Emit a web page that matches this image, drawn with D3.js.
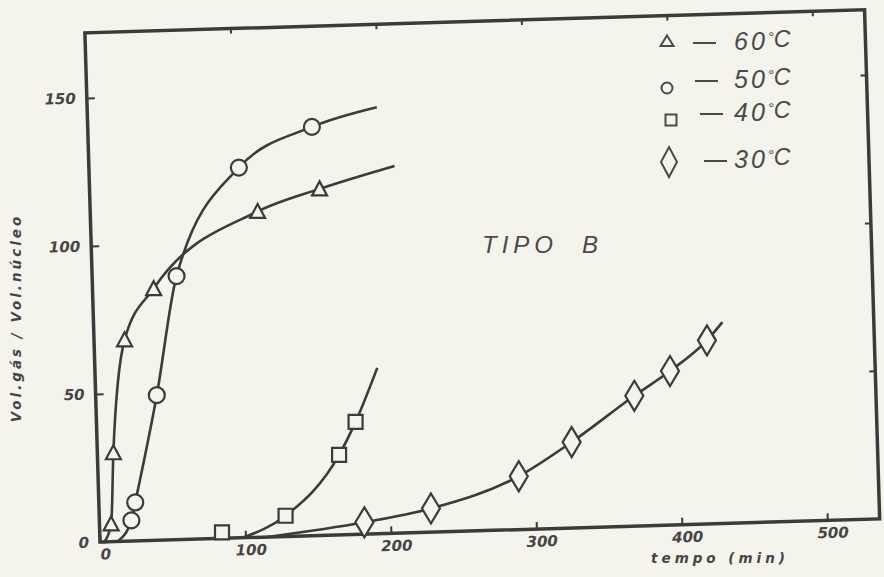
<!DOCTYPE html>
<html>
<head>
<meta charset="utf-8">
<script src="https://cdn.jsdelivr.net/npm/d3@7"></script>
<style>
  html, body { margin: 0; padding: 0; background: #f4f3ec; }
  svg { display: block; }
</style>
</head>
<body>
<div id="chart"></div>
<script>
// values: tempo (min) vs Vol.gás / Vol.núcleo
const xTicks = [0, 100, 200, 300, 400, 500];
const yTicks = [0, 50, 100, 150];

// marker points [tempo, volume]
const points60 = [[8, 6], [11, 30], [21, 68], [42, 85], [115, 110], [158, 117]];
const points50 = [[22, 7], [25, 13], [42, 49], [58, 89], [103, 125], [154, 138]];
const points40 = [[84, 2], [128, 7], [166, 27], [178, 38]];
const points30 = [[182, 4], [228, 8], [289, 18], [326, 29], [370, 44], [395, 52], [421, 62]];

// where each hand-drawn curve starts and stops beyond the markers
const start60 = [3, 0],  end60 = [210, 124];
const start50 = [12, 0], end50 = [199, 144];
const start40 = [98, 0], end40 = [194, 56];
const start30 = [115, 0], end30 = [432, 68];

const legendLabels = ['60', '50', '40', '30'];

const width = 884, height = 577;
const ink = '#3b3b3b';
const paper = '#f4f3ec';

// the scan is slightly tilted, so the plot group is rotated a little
const origin = [100, 542];
const tilt = -1.7;

const x = d3.scaleLinear().domain([0, 536]).range([0, 780]);
const y = d3.scaleLinear().domain([0, 172]).range([0, -509.3]);

const svg = d3.select('#chart').append('svg')
  .attr('width', width)
  .attr('height', height);

svg.append('rect')
  .attr('width', width)
  .attr('height', height)
  .attr('fill', paper);

const plot = svg.append('g')
  .attr('transform', `translate(${origin[0]},${origin[1]}) rotate(${tilt})`);

// frame
plot.append('rect')
  .attr('x', x(0))
  .attr('y', y(172))
  .attr('width', x(536) - x(0))
  .attr('height', y(0) - y(172))
  .attr('fill', 'none')
  .attr('stroke', ink)
  .attr('stroke-width', 3.5);

function styleAxis(g) {
  g.select('.domain').remove();
  g.selectAll('.tick line').attr('stroke', ink).attr('stroke-width', 2);
  g.selectAll('.tick text')
    .attr('fill', '#454545')
    .style('font-family', 'DejaVu Sans')
    .style('font-style', 'italic')
    .style('font-weight', 'bold')
    .style('font-size', '15px');
}

// bottom axis, ticks point inward
plot.append('g')
  .call(d3.axisBottom(x).tickValues(xTicks).tickSizeInner(-7).tickSizeOuter(0).tickPadding(7))
  .call(styleAxis)
  .selectAll('.tick text').attr('dx', 5);

// top ticks
plot.append('g')
  .attr('transform', `translate(0,${y(172)})`)
  .call(d3.axisTop(x).tickValues(xTicks.slice(1)).tickSizeInner(-5).tickSizeOuter(0).tickFormat(''))
  .call(styleAxis);

// left axis
plot.append('g')
  .call(d3.axisLeft(y).tickValues(yTicks).tickSizeInner(-8).tickSizeOuter(0).tickPadding(11))
  .call(styleAxis);

// right ticks
plot.append('g')
  .attr('transform', `translate(${x(536)},0)`)
  .call(d3.axisRight(y).tickValues(yTicks.slice(1)).tickSizeInner(-6).tickSizeOuter(0).tickFormat(''))
  .call(styleAxis);

const line = d3.line()
  .x(d => x(d[0]))
  .y(d => y(d[1]))
  .curve(d3.curveMonotoneX);

const shapes = {
  triangle: 'M0,-7.5L7.5,6.5L-7.5,6.5Z',
  circle: d3.symbol(d3.symbolCircle, Math.PI * 64)(),
  square: 'M-7,-7H7V7H-7Z',
  diamond: 'M0,-15L9,0L0,15L-9,0Z'
};

const series = [
  { shape: 'triangle', points: points60, curve: [start60, ...points60, end60] },
  { shape: 'circle', points: points50, curve: [start50, ...points50, end50] },
  { shape: 'square', points: points40, curve: [start40, ...points40.slice(1), end40] },
  { shape: 'diamond', points: points30, curve: [start30, ...points30, end30] }
];

series.forEach(s => {
  plot.append('path')
    .datum(s.curve)
    .attr('d', line)
    .attr('fill', 'none')
    .attr('stroke', ink)
    .attr('stroke-width', 2.6);

  plot.selectAll(null)
    .data(s.points)
    .enter().append('path')
    .attr('transform', d => `translate(${x(d[0])},${y(d[1])}) rotate(${-tilt})`)
    .attr('d', shapes[s.shape])
    .attr('fill', paper)
    .attr('stroke', ink)
    .attr('stroke-width', 2.2);
});

// legend
const legendRowY = [50, 88, 121, 168];
const legendShapes = [
  'M0,-5.5L6.5,5L-6.5,5Z',
  d3.symbol(d3.symbolCircle, Math.PI * 30)(),
  'M-5.5,-5.5H5.5V5.5H-5.5Z',
  'M0,-15L8,0L0,15L-8,0Z'
];
const legendSymbolPos = [[667, 41], [667, 88], [671, 120], [669, 162]];
const legendDashX = [693, 695, 700, 704];

legendLabels.forEach((lab, i) => {
  svg.append('path')
    .attr('transform', `translate(${legendSymbolPos[i][0]},${legendSymbolPos[i][1]})`)
    .attr('d', legendShapes[i])
    .attr('fill', 'none')
    .attr('stroke', '#4a4a4a')
    .attr('stroke-width', 2);

  svg.append('line')
    .attr('x1', legendDashX[i]).attr('x2', legendDashX[i] + 23)
    .attr('y1', legendRowY[i] - 7).attr('y2', legendRowY[i] - 7)
    .attr('stroke', '#4a4a4a')
    .attr('stroke-width', 2);

  const t = svg.append('text')
    .attr('x', 734)
    .attr('y', legendRowY[i])
    .attr('fill', '#4a4a4a')
    .style('font-family', 'Liberation Sans')
    .style('font-style', 'italic')
    .style('font-size', '25px');
  t.append('tspan').style('letter-spacing', '3px').text(lab);
  t.append('tspan').attr('dy', -8).style('font-size', '15px').text('°');
  t.append('tspan').attr('dy', 5).style('font-size', '23px').text('C');
});

// panel caption
const caption = svg.append('text')
  .attr('x', 482)
  .attr('y', 253)
  .attr('fill', '#4a4a4a')
  .style('font-family', 'Liberation Sans')
  .style('font-style', 'italic')
  .style('font-size', '24px')
  .style('letter-spacing', '5px');
caption.append('tspan').text('TIPO');
caption.append('tspan').attr('dx', 24).text('B');

// axis titles
svg.append('text')
  .attr('x', 720)
  .attr('y', 563)
  .attr('text-anchor', 'middle')
  .attr('fill', '#454545')
  .style('font-family', 'DejaVu Sans')
  .style('font-style', 'italic')
  .style('font-weight', 'bold')
  .style('font-size', '13.5px')
  .style('letter-spacing', '4px')
  .text('tempo (min)');

svg.append('text')
  .attr('transform', 'translate(21,318) rotate(-90)')
  .attr('text-anchor', 'middle')
  .attr('fill', '#454545')
  .style('font-family', 'DejaVu Sans')
  .style('font-style', 'italic')
  .style('font-weight', 'bold')
  .style('font-size', '13.5px')
  .style('letter-spacing', '3px')
  .text('Vol.gás / Vol.núcleo');
</script>
</body>
</html>
